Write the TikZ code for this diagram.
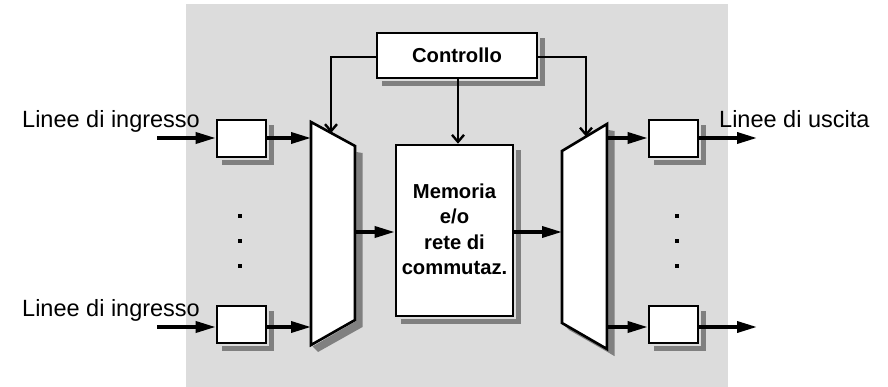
\documentclass[tikz,border=0pt]{standalone}
\usepackage{fontspec}
\setmainfont{Liberation Sans}
\usetikzlibrary{arrows.meta}
\definecolor{shadowc}{rgb}{0.5,0.5,0.5}
\definecolor{panelc}{rgb}{0.863,0.863,0.863}
\tikzset{
  box/.style={draw=black,line width=2.6pt,fill=white,inner sep=0pt},
  smallbox/.style={box,minimum width=49pt,minimum height=37pt},
  lbl/.style={font=\fontsize{23.5}{28}\selectfont,inner sep=0pt,anchor=base west},
  blbl/.style={font=\fontsize{20.2}{25.5}\selectfont\bfseries,align=center,inner sep=0pt},
  data/.style={line width=3.5pt,-{Triangle[length=20pt,width=11pt]}},
  ctl/.style={line width=2.4pt,-{Straight Barb[length=7pt,width=12pt,line width=2.4pt]}},
  trap/.style={draw=black,line width=2.6pt,fill=white,line join=miter},
  dotm/.style={fill=black,inner sep=0pt,minimum size=4pt}
}
\begin{document}
\begin{tikzpicture}[x=1pt,y=-1pt]
\useasboundingbox (0,0) rectangle (888,387);
\fill[panelc] (186,4) rectangle (728,387);
% trapezoid shadows (strips along right and bottom edges)
\fill[shadowc] (356.3,152) -- (362.5,153) -- (362.5,327) -- (318,352) -- (312.5,346.5) -- (356.3,321) -- cycle;
\fill[shadowc] (608.3,130) -- (614.5,131) -- (614.5,356) -- (608.3,352) -- cycle;
\fill[shadowc] (563.5,324.5) -- (608.3,350.5) -- (614.5,356) -- (569,330) -- cycle;
% trapezoids
\draw[trap] (311,122) -- (355,146) -- (355,320) -- (311,345) -- cycle;
\draw[trap] (562,151) -- (607,124) -- (607,349) -- (562,323) -- cycle;
% boxes
\node[box,minimum width=160pt,minimum height=45pt] (ctrl) at (457,55.5) {};
\node[blbl] at (ctrl.center) {Controllo};
\node[box,minimum width=117pt,minimum height=171pt] (mem) at (454.5,230.5) {};
\node[blbl] at ([yshift=1pt]mem.center) {Memoria\\e/o\\rete di\\commutaz.};
\node[smallbox] (in1) at (241.5,138.5) {};
\node[smallbox] (in2) at (241.5,324.5) {};
\node[smallbox] (out1) at (673.5,138.5) {};
\node[smallbox] (out2) at (673.5,324.5) {};
% box shadows drawn as L-shaped strips after the boxes
\foreach \b in {ctrl,mem,in1,in2,out1,out2}{
  \fill[shadowc] ([xshift=1.3pt,yshift=-6pt]\b.north east) rectangle ([xshift=7pt,yshift=-7pt]\b.south east);
  \fill[shadowc] ([xshift=6pt,yshift=-1.3pt]\b.south west) rectangle ([xshift=7pt,yshift=-7pt]\b.south east);
}
% labels
\node[lbl] (lin1) at (22,127.5) {Linee di ingresso};
\node[lbl] (lin2) at (22,316.5) {Linee di ingresso};
\node[lbl] (lout) at (719,127.5) {Linee di uscita};
% dots
\node[dotm] (d1) at (240,216) {};
\node[dotm] (d2) at (240,241) {};
\node[dotm] (d3) at (240,266) {};
\node[dotm] (d4) at (677,216) {};
\node[dotm] (d5) at (677,241) {};
\node[dotm] (d6) at (677,266) {};
% coordinates
\coordinate (s1) at (157,138);
\coordinate (s2) at (157,327);
\coordinate (Lin1) at (311,138);
\coordinate (Lin2) at (311,327);
\coordinate (Lout) at (355,232);
\coordinate (Rin) at (562,232);
\coordinate (Rout1) at (607,138);
\coordinate (Rout2) at (607,327);
\coordinate (e1) at (757,138);
\coordinate (e2) at (757,327);
\coordinate (Ltop) at (331,133);
\coordinate (Rtop) at (586,136.5);
% data connectors
\draw[data] (s1) -- (in1.west |- s1);
\draw[data] (s2) -- (in2.west |- s2);
\draw[data] (in1.east |- Lin1) -- (Lin1);
\draw[data] (in2.east |- Lin2) -- (Lin2);
\draw[data] (Lout) -- (mem.west |- Lout);
\draw[data] (mem.east |- Rin) -- (Rin);
\draw[data] (Rout1) -- (out1.west |- Rout1);
\draw[data] (Rout2) -- (out2.west |- Rout2);
\draw[data] (out1.east |- e1) -- (e1);
\draw[data] (out2.east |- e2) -- (e2);
% control connectors
\draw[ctl] (ctrl.west |- 0,57) -| (Ltop);
\draw[ctl] (ctrl.east |- 0,57) -| (Rtop);
\draw[ctl] (ctrl.south -| 458,0) -- (mem.north -| 458,0);
\end{tikzpicture}
\end{document}
